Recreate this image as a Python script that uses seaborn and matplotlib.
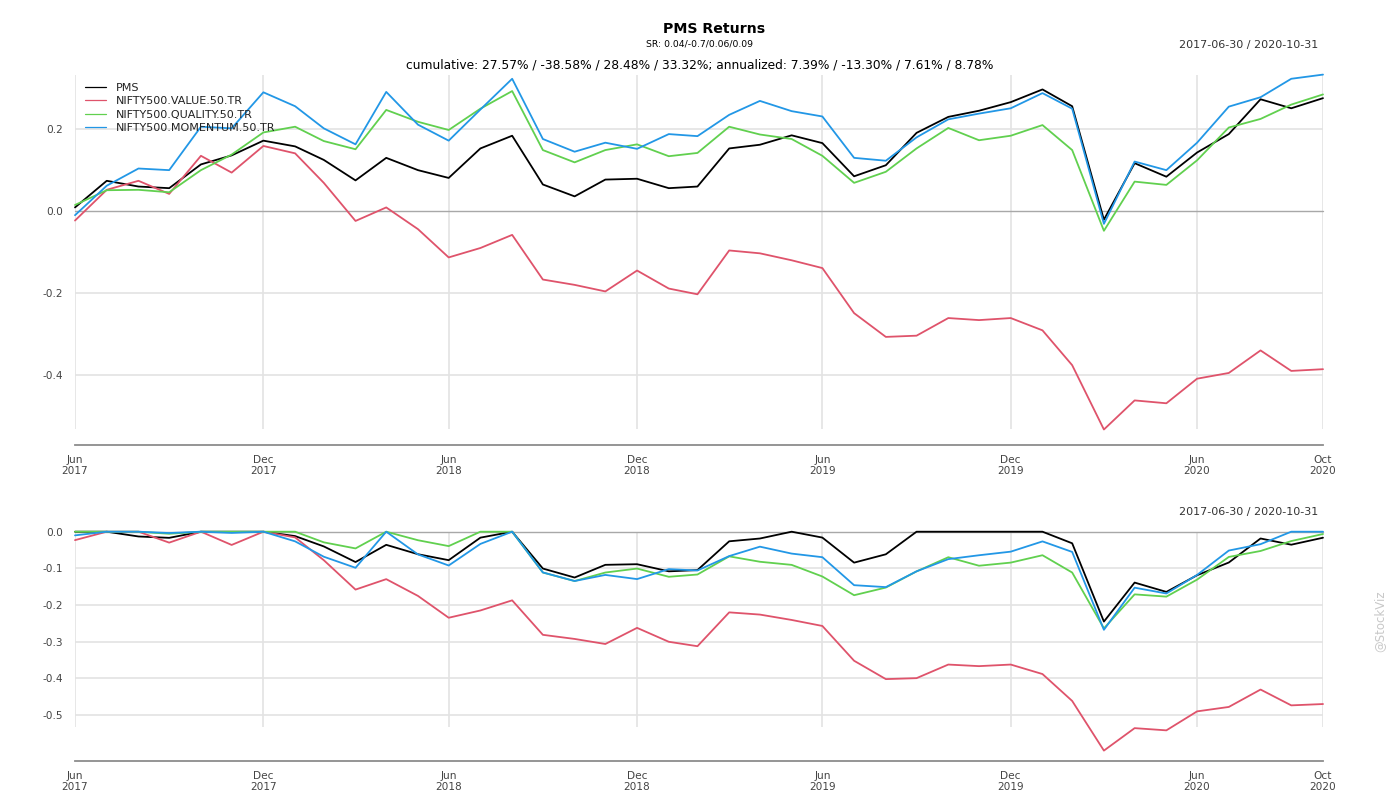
import numpy as np
import pandas as pd
import matplotlib
matplotlib.use("Agg")
import matplotlib.pyplot as plt
from matplotlib.lines import Line2D
import seaborn as sns

# ---------------- data ----------------
dates = pd.date_range("2017-06-30", "2020-10-31", freq="ME")
series_names = ["PMS", "NIFTY500.VALUE.50.TR", "NIFTY500.QUALITY.50.TR", "NIFTY500.MOMENTUM.50.TR"]

pms = [0.009, 0.074, 0.060, 0.056, 0.114, 0.136, 0.172, 0.158, 0.125, 0.075,
       0.130, 0.100, 0.081, 0.153, 0.184, 0.065, 0.036, 0.077, 0.079, 0.056,
       0.060, 0.153, 0.162, 0.185, 0.166, 0.085, 0.112, 0.191, 0.230, 0.245,
       0.266, 0.297, 0.256, -0.021, 0.117, 0.084, 0.143, 0.188, 0.273, 0.251, 0.2757]
value = [-0.023, 0.052, 0.074, 0.042, 0.135, 0.094, 0.159, 0.141, 0.069, -0.024,
         0.009, -0.044, -0.113, -0.090, -0.058, -0.167, -0.180, -0.196, -0.145, -0.189,
         -0.203, -0.096, -0.103, -0.120, -0.139, -0.249, -0.307, -0.304, -0.261, -0.266,
         -0.261, -0.291, -0.376, -0.533, -0.462, -0.469, -0.409, -0.395, -0.340, -0.390, -0.3858]
quality = [0.015, 0.051, 0.052, 0.046, 0.100, 0.138, 0.192, 0.206, 0.171, 0.151,
           0.247, 0.218, 0.198, 0.250, 0.293, 0.149, 0.119, 0.149, 0.163, 0.134,
           0.142, 0.206, 0.187, 0.176, 0.135, 0.069, 0.096, 0.153, 0.203, 0.173,
           0.184, 0.210, 0.149, -0.048, 0.072, 0.064, 0.124, 0.204, 0.225, 0.260, 0.2848]
momentum = [-0.010, 0.062, 0.104, 0.100, 0.206, 0.202, 0.290, 0.256, 0.202, 0.163,
            0.291, 0.211, 0.172, 0.248, 0.323, 0.176, 0.145, 0.167, 0.152, 0.188,
            0.183, 0.235, 0.269, 0.244, 0.231, 0.130, 0.123, 0.180, 0.224, 0.238,
            0.251, 0.288, 0.250, -0.031, 0.121, 0.100, 0.167, 0.255, 0.278, 0.323, 0.3332]

colors = ["#000000", "#DF536B", "#61D04F", "#2297E6"]
major_idx = [0, 6, 12, 18, 24, 30, 36, 40]
top_yticks = [0.2, 0.0, -0.2, -0.4]
bot_yticks = [0.0, -0.1, -0.2, -0.3, -0.4, -0.5]

title = "PMS Returns"
sr_text = "SR: 0.04/-0.7/0.06/0.09"
subtitle = "cumulative: 27.57% / -38.58% / 28.48% / 33.32%; annualized: 7.39% / -13.30% / 7.61% / 8.78%"
range_text = "2017-06-30 / 2020-10-31"

# ---------------- frames ----------------
cum = pd.DataFrame(dict(zip(series_names, [pms, value, quality, momentum])), index=dates)
cum.index.name = "date"
wealth = 1 + cum
dd = wealth / wealth.cummax().clip(lower=1.0) - 1

cum_long = cum.reset_index().melt(id_vars="date", var_name="series", value_name="value")
dd_long = dd.reset_index().melt(id_vars="date", var_name="series", value_name="value")

# ---------------- style ----------------
sns.set_theme(style="white")
plt.rcParams["font.family"] = ["DejaVu Sans"]
plt.rcParams["axes.unicode_minus"] = False

W, H = 1400, 800
fig = plt.figure(figsize=(14, 8), dpi=100)


def px_axes(x0, y0, x1, y1):
    return fig.add_axes([x0 / W, 1 - y1 / H, (x1 - x0) / W, (y1 - y0) / H])


ax1 = px_axes(75, 74.6, 1323, 429.5)
ax2 = px_axes(75, 531.7, 1323, 750.6)

grid_col = "#e3e3e3"
zero_col = "#a8a8a8"
axis_col = "#8c8c8c"
label_col = "#444444"

top_min = cum.min().min()

for ax, data, yticks, ylim, outward in [
    (ax1, cum_long, top_yticks, (top_min, cum.max().max()), 11.5),
    (ax2, dd_long, bot_yticks, (dd.min().min(), 0.0), 7.6),
]:
    ax.set_facecolor("white")
    sns.lineplot(data=data, x="date", y="value", hue="series", hue_order=series_names,
                 palette=colors, linewidth=1.3, ax=ax, legend=False, zorder=3)
    for ln in ax.lines:
        ln.set_clip_on(False)
    ax.set_xlim(dates[0], dates[-1])
    ax.set_ylim(*ylim)
    ax.set_xlabel("")
    ax.set_ylabel("")

    # horizontal grid
    ax.set_yticks(yticks)
    ax.set_yticklabels([f"{t:.1f}" for t in yticks])
    for t in yticks:
        if t != 0:
            ax.axhline(t, color=grid_col, lw=1.2, zorder=1)
    ax.axhline(0, color=zero_col, lw=1.0, zorder=2, clip_on=False)

    # spines
    for s in ["top", "left", "right"]:
        ax.spines[s].set_visible(False)
    ax.spines["bottom"].set_position(("outward", outward))
    ax.spines["bottom"].set_color(axis_col)
    ax.spines["bottom"].set_linewidth(1.3)

    # x ticks
    major_dates = [dates[i] for i in major_idx]
    ax.set_xticks(major_dates)
    ax.set_xticklabels([d.strftime("%b\n%Y") for d in major_dates])
    ax.set_xticks(list(dates), minor=True)
    ax.tick_params(axis="x", which="major", direction="out", length=4, width=1,
                   color=axis_col, labelsize=7.6, labelcolor=label_col, pad=3)
    ax.tick_params(axis="x", which="minor", direction="in", length=3, width=0.8,
                   color="#e6e6e6")
    for lab in ax.get_xticklabels():
        lab.set_linespacing(1.15)
    ax.tick_params(axis="y", length=0, pad=8.6, labelsize=7.6, labelcolor=label_col)
    ax.grid(False)

# vertical grid lines
ax1.vlines([dates[i] for i in major_idx], top_min, cum.max().max(),
           color=grid_col, lw=1.2, zorder=0)
ax2.vlines([dates[i] for i in major_idx], top_min, 0.0,
           color=grid_col, lw=1.2, zorder=0)

# legend
handles = [Line2D([0], [0], color=c, lw=0.9) for c in colors]
leg = ax1.legend(handles, series_names, loc="upper left",
                 bbox_to_anchor=(85 / W, 1 - 83 / H), bbox_transform=fig.transFigure,
                 frameon=False, fontsize=8, handlelength=1.85, handletextpad=0.9,
                 labelspacing=0.3, borderpad=0, borderaxespad=0)
for t in leg.get_texts():
    t.set_color("#222222")

# texts
fig.text(714 / W, 1 - 29 / H, title, ha="center", va="center", fontsize=10.2,
         fontweight="bold", color="black")
fig.text(700 / W, 1 - 44 / H, sr_text, ha="center", va="center", fontsize=6.7, color="black")
fig.text(700 / W, 1 - 65 / H, subtitle, ha="center", va="center", fontsize=8.8, color="black")
fig.text(1318 / W, 1 - 45 / H, range_text, ha="right", va="center", fontsize=8, color="#333333")
fig.text(1318 / W, 1 - 512 / H, range_text, ha="right", va="center", fontsize=8, color="#333333")
fig.text(1380 / W, 1 - 621 / H, "@StockViz", rotation=90, ha="center", va="center",
         fontsize=8.5, color="#c8c8c8")

fig.savefig("out.png", dpi=100)
